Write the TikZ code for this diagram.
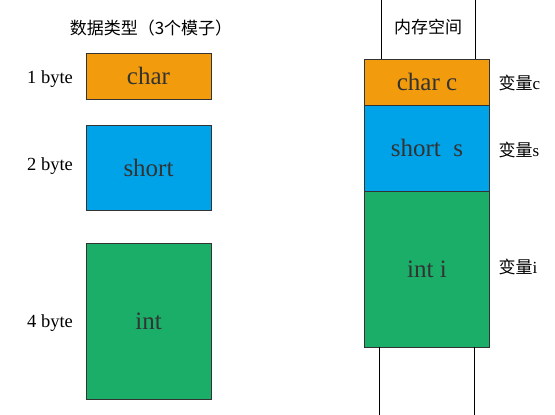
\documentclass[tikz,border=0pt]{standalone}
\usepackage{fontspec}
\setmainfont{Liberation Serif}
\newfontfamily\cjk{Noto Sans CJK SC}
\definecolor{charorange}{RGB}{242,155,12}
\definecolor{shortblue}{RGB}{0,162,232}
\definecolor{intgreen}{RGB}{26,174,104}

\begin{document}
\begin{tikzpicture}[x=1pt, y=-1pt,
    typebox/.style={draw=black!80, line width=0.9pt, minimum width=125pt, inner sep=0pt,
        font=\fontsize{25}{25}\selectfont, text=black!80},
    sizelabel/.style={font=\fontsize{18.5}{18.5}\selectfont},
    varlabel/.style={anchor=west, font=\fontsize{17}{17}\selectfont},
    wall/.style={draw=black, line width=0.9pt}]
    \useasboundingbox (0,0) rectangle (555,415);

    % data types
    \node[font=\cjk\fontsize{17}{17}\selectfont] (types-title) at (151,28) {数据类型（3个模子）};
    \node[typebox, fill=charorange, minimum height=46pt] (char) at (148.5,76) {char};
    \node[typebox, fill=shortblue, minimum height=85pt] (short) at (148.5,167.5) {short};
    \node[typebox, fill=intgreen, minimum height=156pt] (int) at (148.5,321) {int};
    \node[sizelabel] (char-size) at (50,79) {1 byte};
    \node[sizelabel] (short-size) at (50,166) {2 byte};
    \node[sizelabel] (int-size) at (50,323) {4 byte};

    % memory
    \node[font=\cjk\fontsize{17}{17}\selectfont] (memory-title) at (428,27) {内存空间};
    \node[typebox, fill=charorange, minimum height=46pt] (char-c) at (427,82) {char c};
    \node[typebox, fill=shortblue, minimum height=86pt] (short-s) at (427,148) {short~~s};
    \node[typebox, fill=intgreen, minimum height=156pt] (int-i) at (427,269) {int i};
    \node[varlabel] (var-c) at (495,83) {{\cjk 变量}c};
    \node[varlabel] (var-s) at (495,150) {{\cjk 变量}s};
    \node[varlabel] (var-i) at (495,267) {{\cjk 变量}i};

    \coordinate (top-left) at (381,0);
    \coordinate (top-right) at (475,0);
    \coordinate (bottom-left) at (379,415);
    \coordinate (bottom-right) at (474,415);
    \draw[wall] (top-left) -- (top-left |- char-c.north);
    \draw[wall] (top-right) -- (top-right |- char-c.north);
    \draw[wall] (int-i.south -| bottom-left) -- (bottom-left);
    \draw[wall] (int-i.south -| bottom-right) -- (bottom-right);
\end{tikzpicture}
\end{document}
